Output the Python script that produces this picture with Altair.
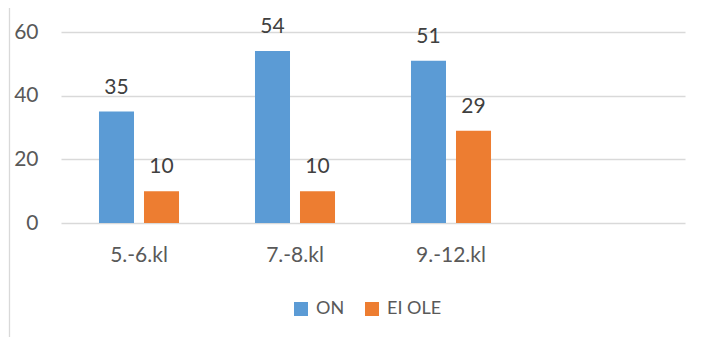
import altair as alt
import pandas as pd

categories = ["5.-6.kl", "7.-8.kl", "9.-12.kl"]
x_domain = ["5.-6.kl", "7.-8.kl", "9.-12.kl", " "]
series = ["ON", "EI OLE"]
on_values = [35, 54, 51]
eiole_values = [10, 10, 29]
colors = ["#5B9BD5", "#ED7D31"]
y_ticks = [0, 20, 40, 60]

rows = []
for c, a, b in zip(categories, on_values, eiole_values):
    rows.append({"cat": c, "series": "ON", "value": a})
    rows.append({"cat": c, "series": "EI OLE", "value": b})
df = pd.DataFrame(rows)

FONT = "Lato"
W, H = 624, 191

x = alt.X("cat:N", scale=alt.Scale(domain=x_domain, paddingInner=0, paddingOuter=0),
          sort=x_domain,
          axis=alt.Axis(title=None, labelAngle=0, ticks=False, tickSize=0, domain=False,
                        grid=False, labelFontSize=21, labelFont=FONT, labelColor="#595959",
                        labelBaseline="alphabetic", labelPadding=38))
xo = alt.XOffset("series:N", scale=alt.Scale(domain=series, paddingInner=0.222, paddingOuter=0.844))
y = alt.Y("value:Q", scale=alt.Scale(domain=[0, 60], nice=False),
          axis=alt.Axis(title=None, values=y_ticks, ticks=False, tickSize=0, domain=False,
                        grid=True, gridColor="#D9D9D9", gridWidth=1.3,
                        labelFontSize=21, labelFont=FONT, labelColor="#595959",
                        labelPadding=23))
color = alt.Color("series:N", scale=alt.Scale(domain=series, range=colors),
                  legend=alt.Legend(title=None, orient="none", legendX=231, legendY=268,
                                    direction="horizontal", symbolType="square",
                                    symbolSize=196, symbolStrokeWidth=0,
                                    labelFontSize=18, labelFont=FONT, labelColor="#595959",
                                    labelOffset=6, columnPadding=18, padding=0))

base = alt.Chart(df)
bars = base.mark_bar().encode(x=x, xOffset=xo, y=y, color=color)
labels = base.mark_text(dy=-18, baseline="alphabetic", fontSize=21, font=FONT,
                        color="#404040").encode(x=x, xOffset=xo, y=y, text="value:Q")

frame = alt.Chart(pd.DataFrame({"a": [0]})).mark_rect(
    filled=False, stroke="#D9D9D9", strokeWidth=1.3
).encode(x=alt.value(-51.5), x2=alt.value(900), y=alt.value(-28.5), y2=alt.value(500))

chart = alt.layer(frame, bars, labels).properties(
    width=W, height=H,
    padding={"left": 53, "top": 24, "right": 16, "bottom": 114},
    autosize=alt.AutoSizeParams(type="none"),
).configure_view(stroke=None)

chart.save("out.html", embed_options={"renderer": "svg", "actions": False})
